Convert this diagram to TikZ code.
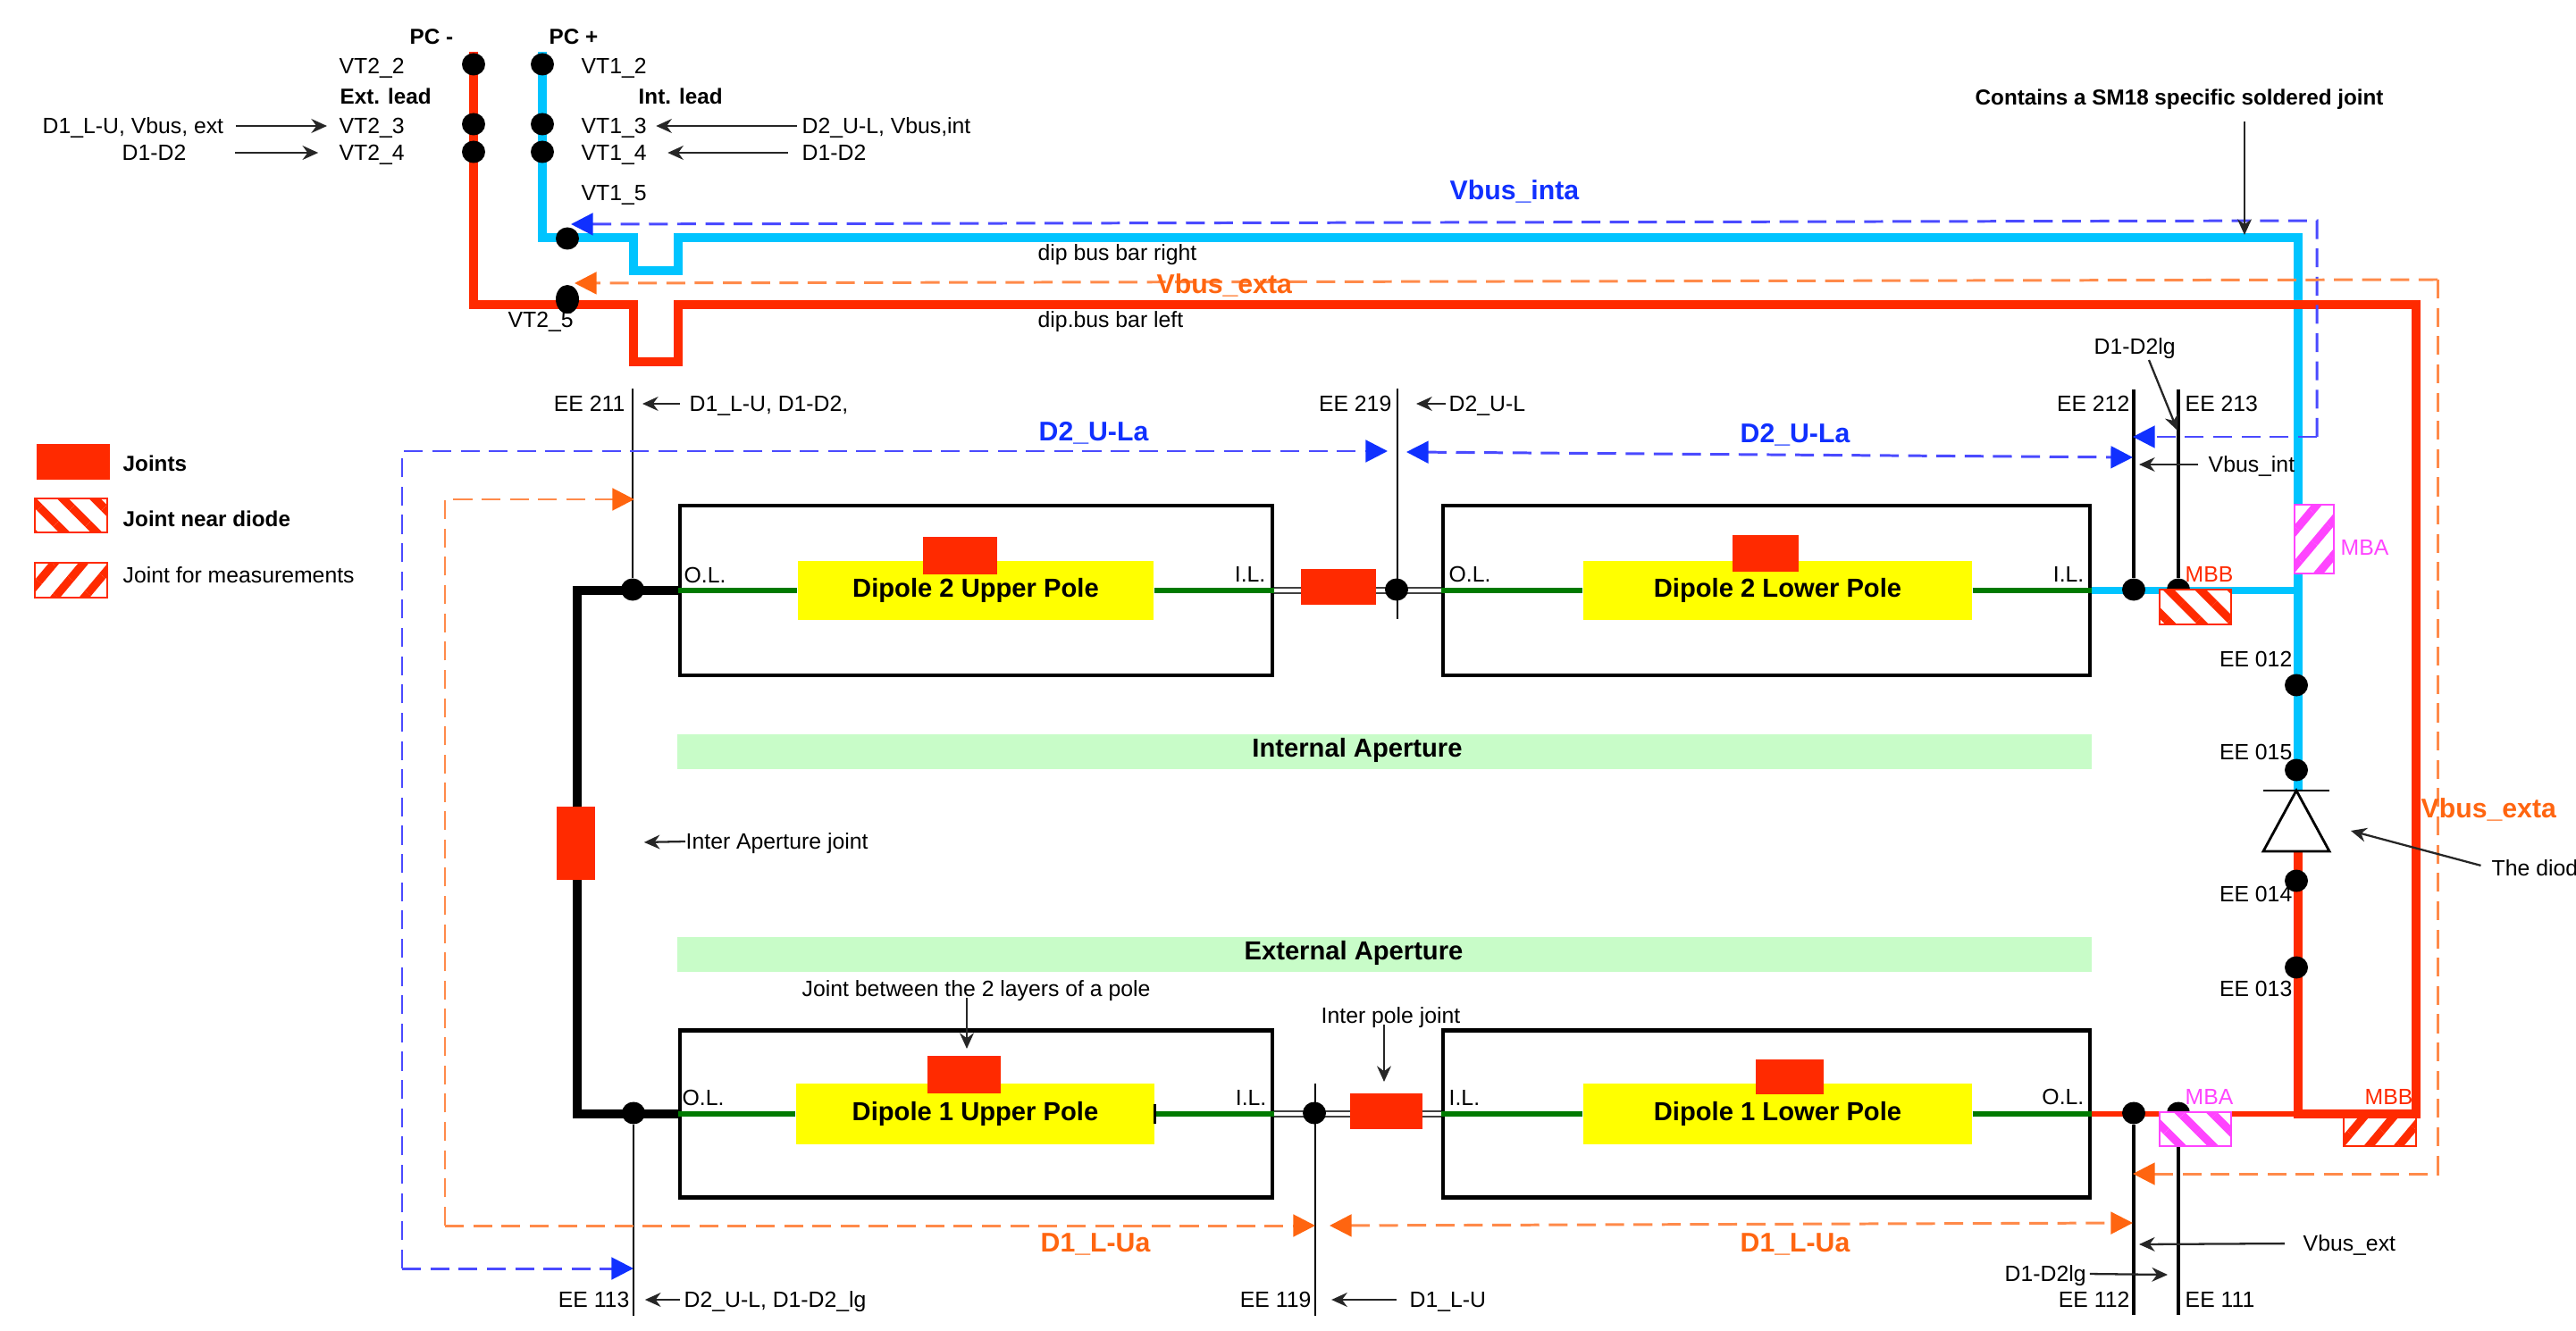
\documentclass[tikz,border=0pt]{standalone}
\usepackage{fontspec}
\setmainfont{Liberation Sans}
\usepackage{xcolor}
\usetikzlibrary{shapes.geometric, arrows.meta, positioning, patterns.meta}
\definecolor{BusRed}{HTML}{FF2A00}
\definecolor{BusCyan}{HTML}{00C4FF}
\definecolor{MagPink}{HTML}{FF44FF}
\definecolor{DashBlue}{HTML}{4A4AFF}
\definecolor{TipBlue}{HTML}{1030FF}
\definecolor{DashOrange}{HTML}{FF8A4A}
\definecolor{TipOrange}{HTML}{FF6510}
\definecolor{PoleYellow}{HTML}{FFFF00}
\definecolor{PoleGreen}{HTML}{007A00}
\definecolor{PaleGreen}{HTML}{C8FCC8}
\tikzset{
  lbl/.style={inner sep=0pt, font=\fontsize{7.05}{9}\selectfont, text height=5pt, text depth=0pt},
  blbl/.style={lbl, font=\fontsize{6.9}{9}\selectfont\bfseries},
  bigblue/.style={inner sep=0pt, font=\fontsize{8.6}{10}\selectfont\bfseries, text height=6.1pt, text depth=0pt, text=TipBlue},
  bigorange/.style={bigblue, text=TipOrange},
  magtext/.style={lbl, text=MagPink},
  redtext/.style={lbl, text=BusRed},
  polebox/.style={rectangle, draw, line width=1.2pt, inner sep=0pt},
  pole/.style={rectangle, fill=PoleYellow, inner sep=0pt, font=\fontsize{8.3}{10}\selectfont\bfseries},
  aperture/.style={rectangle, fill=PaleGreen, minimum width=15.83cm, minimum height=0.39cm, inner sep=0pt},
  aptext/.style={inner sep=0pt, font=\fontsize{8.3}{10}\selectfont\bfseries},
  joint/.style={rectangle, fill=BusRed, inner sep=0pt},
  hatchN/.style={rectangle, draw=#1, line width=0.6pt, inner sep=0pt, preaction={fill=white},
                 pattern={Lines[angle=-45,distance=7.2pt,line width=2.6pt]}, pattern color=#1},
  hatchP/.style={rectangle, draw=#1, line width=0.6pt, inner sep=0pt, preaction={fill=white},
                 pattern={Lines[angle=50,distance=7.2pt,line width=2.6pt]}, pattern color=#1},
  dot/.style={ellipse, fill=black, inner sep=0pt, minimum width=0.26cm, minimum height=0.25cm},
  intbus/.style={BusCyan, line width=2.7pt},
  extbus/.style={BusRed, line width=2.7pt},
  polewire/.style={PoleGreen, line width=1.7pt},
  linkwire/.style={black!75, double, double distance=1.1pt, line width=0.6pt},
  eethin/.style={line width=0.65pt},
  eethick/.style={line width=1.3pt},
  note/.style={-{Stealth[length=5pt,width=4.5pt]}, line width=0.65pt, black!85},
  bluedash/.style={DashBlue, line width=0.85pt, dash pattern=on 6pt off 3pt},
  orangedash/.style={DashOrange, line width=0.85pt, dash pattern=on 6pt off 3pt},
  bluetip/.style={-{Triangle[length=7pt,width=7pt,color=TipBlue]}},
  orangetip/.style={-{Triangle[length=7pt,width=7pt,color=TipOrange]}},
  bluetips/.style={{Triangle[length=7pt,width=7pt,color=TipBlue]}-{Triangle[length=7pt,width=7pt,color=TipBlue]}},
  orangetips/.style={{Triangle[length=7pt,width=7pt,color=TipOrange]}-{Triangle[length=7pt,width=7pt,color=TipOrange]}},
}
\begin{document}
\begin{tikzpicture}
    \useasboundingbox (0,0) rectangle (28.83,-14.90);

    % Green bands
    \node[aperture] (apInt) at (15.495,-8.41) {};
    \node[aperture] (apExt) at (15.495,-10.68) {};
    \node[aptext] (apIntT) at (15.19,-8.40) {Internal Aperture};
    \node[aptext] (apExtT) at (15.15,-10.67) {External Aperture};

    % Pole boxes
    \node[polebox, minimum width=6.63cm, minimum height=1.90cm] (D2U) at (10.925,-6.61) {};
    \node[polebox, minimum width=7.24cm, minimum height=1.90cm] (D2L) at (19.77,-6.61) {};
    \node[polebox, minimum width=6.63cm, minimum height=1.87cm] (D1U) at (10.925,-12.47) {};
    \node[polebox, minimum width=7.24cm, minimum height=1.87cm] (D1L) at (19.77,-12.47) {};

    % Yellow poles
    \node[pole, minimum width=3.98cm, minimum height=0.66cm] (D2Uy) at (10.92,-6.61) {Dipole 2 Upper Pole};
    \node[pole, minimum width=4.35cm, minimum height=0.66cm] (D2Ly) at (19.895,-6.61) {Dipole 2 Lower Pole};
    \node[pole, minimum width=4.01cm, minimum height=0.68cm] (D1Uy) at (10.915,-12.47) {Dipole 1 Upper Pole};
    \node[pole, minimum width=4.35cm, minimum height=0.68cm] (D1Ly) at (19.895,-12.47) {Dipole 1 Lower Pole};

    % Wires inside the boxes
    \draw[polewire] (D2U.west) -- (D2Uy.west);
    \draw[polewire] (D2Uy.east) -- (D2U.east);
    \draw[polewire] (D2L.west) -- (D2Ly.west);
    \draw[polewire] (D2Ly.east) -- (D2L.east);
    \draw[polewire] (D1U.west) -- (D1Uy.west);
    \draw[polewire] (D1Uy.east) -- (D1U.east);
    \draw[polewire] (D1L.west) -- (D1Ly.west);
    \draw[polewire] (D1Ly.east) -- (D1L.east);
    \draw[line width=0.8pt] ([yshift=0.11cm]D1Uy.east) -- ([yshift=-0.11cm]D1Uy.east);

    % Links between poles
    \draw[linkwire] (D2U.east) -- (D2L.west);
    \draw[linkwire] (D1U.east) -- (D1L.west);

    % Left aperture link
    \coordinate (lftT) at (6.46,-6.61);
    \coordinate (lftB) at (6.46,-12.47);
    \draw[line width=2.6pt] (D2U.west) -- (lftT) -- (lftB) -- (D1U.west);

    % Measurement joint under the outer bus
    \node[hatchP=BusRed, minimum width=0.81cm, minimum height=0.38cm] (mbbB) at (26.635,-12.64) {};

    % Bus bars
    \coordinate (pcMinus) at (5.30,-0.58);
    \coordinate (pcPlus) at (6.07,-0.58);
    \coordinate (ni1) at (7.09,-2.66);
    \coordinate (ni2) at (7.09,-3.03);
    \coordinate (ni3) at (7.59,-3.03);
    \coordinate (ni4) at (7.59,-2.66);
    \coordinate (ne1) at (7.09,-3.41);
    \coordinate (ne2) at (7.09,-4.05);
    \coordinate (ne3) at (7.59,-4.05);
    \coordinate (ne4) at (7.59,-3.41);
    \coordinate (ne5) at (27.04,-12.47);
    \coordinate (ne6) at (25.72,-12.47);
    \coordinate (dioTop) at (25.70,-8.85);
    \coordinate (dioL) at (25.33,-9.53);
    \coordinate (dioR) at (26.07,-9.53);
    \coordinate (barL) at (25.33,-8.85);
    \coordinate (barR) at (26.07,-8.85);
    \coordinate (dioBot) at (25.72,-9.53);
    \coordinate (nc) at (25.72,-6.61);
    \draw[intbus] (pcPlus) |- (ni1) -- (ni2) -- (ni3) -- (ni4) -| (nc) -- (dioTop -| nc);
    \draw[BusCyan, line width=2pt] (D2L.east) -- (nc);
    \draw[BusRed, line width=1.5pt] (D1L.east) -- (ne6);
    \draw[extbus] (pcMinus) |- (ne1) -- (ne2) -- (ne3) -- (ne4) -| (ne5) -- (ne6) -- (dioBot);

    % Diode
    \draw[line width=0.8pt, fill=white] (dioTop) -- (dioR) -- (dioL) -- cycle;
    \draw[line width=0.8pt] (barL) -- (barR);

    % Voltage taps
    \node[dot] (v22) at (5.30,-0.72) {};
    \node[dot] (v23) at (5.30,-1.39) {};
    \node[dot] (v24) at (5.30,-1.70) {};
    \node[dot] (v12) at (6.07,-0.72) {};
    \node[dot] (v13) at (6.07,-1.39) {};
    \node[dot] (v14) at (6.07,-1.70) {};
    \node[dot] (v15) at (6.35,-2.67) {};
    \node[dot, minimum height=0.32cm] (v25) at (6.35,-3.35) {};
    \node[dot] (e012) at (25.70,-7.67) {};
    \node[dot] (e015) at (25.70,-8.62) {};
    \node[dot] (e014) at (25.70,-9.86) {};
    \node[dot] (e013) at (25.70,-10.83) {};

    \node[dot] (e211) at (7.08,-6.60) {};
    \node[dot] (e219) at (15.63,-6.60) {};
    \node[dot] (e212) at (23.88,-6.60) {};
    \node[dot] (e213) at (24.38,-6.60) {};
    \node[dot] (e113) at (7.09,-12.46) {};
    \node[dot] (e119) at (14.71,-12.46) {};
    \node[dot] (e112) at (23.88,-12.46) {};
    \node[dot] (e111) at (24.38,-12.46) {};

    \coordinate (t211) at (7.08,-4.35);
    \coordinate (t219) at (15.64,-4.35);
    \coordinate (b219) at (15.64,-6.93);
    \coordinate (t212) at (23.88,-4.36);
    \coordinate (t213) at (24.38,-4.36);
    \coordinate (b113) at (7.09,-14.73);
    \coordinate (t119) at (14.72,-12.13);
    \coordinate (b119) at (14.72,-14.73);
    \coordinate (b112) at (23.88,-14.72);
    \coordinate (b111) at (24.38,-14.72);
    \draw[eethin] (e211) -- (t211);
    \draw[eethin] (t219) -- (b219);
    \draw[eethick] (e212) -- (t212);
    \draw[eethick] (e213) -- (t213);
    \draw[eethin] (e113) -- (b113);
    \draw[eethin] (t119) -- (b119);
    \draw[eethick] (e112) -- (b112);
    \draw[eethick] (e111) -- (b111);

    % Joints
    \node[joint, minimum width=0.43cm, minimum height=0.82cm] (jAp) at (6.445,-9.44) {};
    \node[joint, minimum width=0.83cm, minimum height=0.42cm] (jD2U) at (10.745,-6.22) {};
    \node[joint, minimum width=0.74cm, minimum height=0.41cm] (jD2L) at (19.755,-6.195) {};
    \node[joint, minimum width=0.815cm, minimum height=0.42cm] (jD1U) at (10.79,-12.03) {};
    \node[joint, minimum width=0.76cm, minimum height=0.39cm] (jD1L) at (20.03,-12.055) {};
    \node[joint, minimum width=0.84cm, minimum height=0.40cm] (jD2m) at (14.98,-6.57) {};
    \node[joint, minimum width=0.81cm, minimum height=0.40cm] (jD1m) at (15.515,-12.44) {};
    \node[hatchN=BusRed, minimum width=0.805cm, minimum height=0.39cm] (mbbT) at (24.57,-6.795) {};
    \node[hatchP=MagPink, minimum width=0.435cm, minimum height=0.77cm] (mbaT) at (25.90,-6.035) {};
    \node[hatchN=MagPink, minimum width=0.805cm, minimum height=0.38cm] (mbaB) at (24.57,-12.64) {};

    % Legend
    \node[joint, minimum width=0.82cm, minimum height=0.40cm] (lgJoint) at (0.82,-5.17) {};
    \node[hatchN=BusRed, minimum width=0.81cm, minimum height=0.38cm] (lgNear) at (0.795,-5.77) {};
    \node[hatchP=BusRed, minimum width=0.81cm, minimum height=0.39cm] (lgMeas) at (0.795,-6.495) {};
    \node[blbl, anchor=west] (lgT1) at (1.37,-5.19) {Joints};
    \node[blbl, anchor=west] (lgT2) at (1.37,-5.81) {Joint near diode};
    \node[lbl, anchor=west] (lgT3) at (1.37,-6.44) {Joint for measurements};

    % Dashed measurement loops
    \coordinate (biTR) at (25.93,-2.47);
    \coordinate (biBR) at (25.93,-4.89);
    \coordinate (biTip) at (6.39,-2.51);
    \coordinate (biEnd) at (23.87,-4.89);
    \coordinate (beTR) at (27.28,-3.13);
    \coordinate (beBR) at (27.28,-13.14);
    \coordinate (beTip) at (6.43,-3.17);
    \coordinate (beEnd) at (23.87,-13.14);
    \draw[bluedash, bluetip] (biBR) -- (biTR) -- (biTip);
    \draw[bluedash, bluetip] (biBR) -- (biEnd);
    \draw[orangedash, orangetip] (beTR) -- (beTip);
    \draw[orangedash, orangetip] (beTR) -- (beBR) -- (beEnd);

    \coordinate (buTL) at (4.50,-5.05);
    \coordinate (buBL) at (4.50,-14.20);
    \coordinate (buTip) at (15.53,-5.05);
    \coordinate (buEnd) at (7.09,-14.20);
    \coordinate (bvL) at (15.74,-5.06);
    \coordinate (bvR) at (23.87,-5.12);
    \draw[bluedash, bluetip] (buBL) -- (buTL) -- (buTip);
    \draw[bluedash, bluetip] (buBL) -- (buEnd);
    \draw[bluedash, bluetips] (bvL) -- (bvR);

    \coordinate (ouTL) at (4.98,-5.59);
    \coordinate (ouBL) at (4.98,-13.72);
    \coordinate (ouTip) at (7.10,-5.59);
    \coordinate (ouEnd) at (14.72,-13.72);
    \coordinate (ovL) at (14.88,-13.72);
    \coordinate (ovR) at (23.87,-13.69);
    \draw[orangedash, orangetip] (ouBL) -- (ouTL) -- (ouTip);
    \draw[orangedash, orangetip] (ouBL) -- (ouEnd);
    \draw[orangedash, orangetips] (ovL) -- (ovR);

    \node[bigblue, anchor=west] (nVi) at (16.22,-2.13) {Vbus\_inta};
    \node[bigorange, anchor=west] (nVe) at (12.94,-3.18) {Vbus\_exta};
    \node[bigorange, anchor=west] (nVe2) at (27.09,-9.05) {Vbus\_exta};
    \node[bigblue, anchor=west] (nU1) at (11.62,-4.83) {D2\_U-La};
    \node[bigblue, anchor=west] (nU2) at (19.47,-4.85) {D2\_U-La};
    \node[bigorange, anchor=west] (nL1) at (11.64,-13.91) {D1\_L-Ua};
    \node[bigorange, anchor=west] (nL2) at (19.47,-13.91) {D1\_L-Ua};

    % Top labels
    \node[blbl, anchor=west] (pcN) at (4.58,-0.41) {PC -};
    \node[blbl, anchor=west] (pcP) at (6.14,-0.41) {PC +};
    \node[lbl, anchor=west] (t22) at (3.79,-0.74) {VT2\_2};
    \node[lbl, anchor=west] (t12) at (6.50,-0.74) {VT1\_2};
    \node[blbl, anchor=west] (tExt) at (3.80,-1.08) {Ext. lead};
    \node[blbl, anchor=west] (tInt) at (7.14,-1.08) {Int. lead};
    \node[lbl, anchor=west] (t23) at (3.79,-1.41) {VT2\_3};
    \node[lbl, anchor=west] (t13) at (6.50,-1.41) {VT1\_3};
    \node[lbl, anchor=west] (t24) at (3.79,-1.71) {VT2\_4};
    \node[lbl, anchor=west] (t14) at (6.50,-1.71) {VT1\_4};
    \node[lbl, anchor=west] (t15) at (6.50,-2.16) {VT1\_5};
    \node[lbl, anchor=west] (t25) at (5.68,-3.58) {VT2\_5};
    \node[lbl, anchor=west] (n23) at (0.47,-1.41) {D1\_L-U, Vbus, ext};
    \node[lbl, anchor=west] (n24) at (1.36,-1.71) {D1-D2};
    \node[lbl, anchor=west] (n13) at (8.97,-1.41) {D2\_U-L, Vbus,int};
    \node[lbl, anchor=west] (n14) at (8.97,-1.71) {D1-D2};
    \node[lbl, anchor=west] (busR) at (11.61,-2.83) {dip bus bar right};
    \node[lbl, anchor=west] (busL) at (11.61,-3.58) {dip.bus bar left};
    \node[blbl, anchor=west] (nSm) at (22.10,-1.09) {Contains a SM18 specific soldered joint};

    % EE labels
    \node[lbl, anchor=east] (l211) at (7.00,-4.52) {EE 211};
    \node[lbl, anchor=west] (n211) at (7.71,-4.52) {D1\_L-U, D1-D2,};
    \node[lbl, anchor=east] (l219) at (15.58,-4.52) {EE 219};
    \node[lbl, anchor=west] (n219) at (16.21,-4.52) {D2\_U-L};
    \node[lbl, anchor=east] (l212) at (23.84,-4.52) {EE 212};
    \node[lbl, anchor=west] (l213) at (24.45,-4.52) {EE 213};
    \node[lbl, anchor=west] (nLgT) at (23.43,-3.88) {D1-D2lg};
    \node[lbl, anchor=west] (nVint) at (24.71,-5.20) {Vbus\_int};
    \node[lbl, anchor=east] (l012) at (25.66,-7.38) {EE 012};
    \node[lbl, anchor=east] (l015) at (25.66,-8.42) {EE 015};
    \node[lbl, anchor=east] (l014) at (25.66,-10.01) {EE 014};
    \node[lbl, anchor=east] (l013) at (25.66,-11.07) {EE 013};
    \node[lbl, anchor=east] (l113) at (7.05,-14.55) {EE 113};
    \node[lbl, anchor=west] (n113) at (7.65,-14.55) {D2\_U-L, D1-D2\_lg};
    \node[lbl, anchor=east] (l119) at (14.68,-14.55) {EE 119};
    \node[lbl, anchor=west] (n119) at (15.77,-14.55) {D1\_L-U};
    \node[lbl, anchor=east] (l112) at (23.84,-14.55) {EE 112};
    \node[lbl, anchor=west] (l111) at (24.45,-14.55) {EE 111};
    \node[lbl, anchor=west] (nLgB) at (22.43,-14.26) {D1-D2lg};
    \node[lbl, anchor=west] (nVext) at (25.77,-13.92) {Vbus\_ext};
    \node[lbl, anchor=west] (nDiod) at (27.88,-9.72) {The diod};
    \node[lbl, anchor=west] (nAp) at (7.67,-9.42) {Inter Aperture joint};
    \node[lbl, anchor=west] (nLay) at (8.97,-11.07) {Joint between the 2 layers of a pole};
    \node[lbl, anchor=west] (nPole) at (14.78,-11.37) {Inter pole joint};

    % Box end labels
    \node[lbl, anchor=west] (ol1) at (7.65,-6.44) {O.L.};
    \node[lbl, anchor=east] (il1) at (14.17,-6.43) {I.L.};
    \node[lbl, anchor=west] (ol2) at (16.21,-6.43) {O.L.};
    \node[lbl, anchor=east] (il2) at (23.33,-6.43) {I.L.};
    \node[lbl, anchor=west] (ol3) at (7.63,-12.29) {O.L.};
    \node[lbl, anchor=east] (il3) at (14.18,-12.29) {I.L.};
    \node[lbl, anchor=west] (il4) at (16.21,-12.29) {I.L.};
    \node[lbl, anchor=east] (ol4) at (23.33,-12.28) {O.L.};
    \node[redtext, anchor=west] (tMbbT) at (24.45,-6.43) {MBB};
    \node[magtext, anchor=west] (tMbaT) at (26.19,-6.13) {MBA};
    \node[magtext, anchor=west] (tMbaB) at (24.45,-12.28) {MBA};
    \node[redtext, anchor=west] (tMbbB) at (26.46,-12.28) {MBB};

    % Annotation arrows
    \coordinate (tipSm) at (25.12,-2.63);
    \coordinate (tailSm) at (25.12,-1.36);
    \coordinate (tipLgT) at (24.37,-4.82);
    \coordinate (tailLgT) at (24.05,-4.03);
    \coordinate (tipLgB) at (24.26,-14.27);
    \coordinate (tipVint) at (23.94,-5.20);
    \coordinate (tipVext) at (23.94,-13.93);
    \coordinate (tipDiod) at (26.31,-9.30);
    \coordinate (tipLay) at (10.82,-11.74);
    \coordinate (tailLay) at (10.82,-11.17);
    \coordinate (tipPole) at (15.49,-12.11);
    \coordinate (tailPole) at (15.49,-11.47);
    \draw[note, shorten <=3.7pt, shorten >=3.7pt] (n23.east) -- (t23.west);
    \draw[note, shorten <=15.4pt, shorten >=6.5pt] (n24.east) -- (t24.west);
    \draw[note, shorten <=1.4pt, shorten >=2.8pt] (n13.west) -- (t13.east);
    \draw[note, shorten <=4.3pt, shorten >=6.5pt] (n14.west) -- (t14.east);
    \draw[note, shorten <=2.8pt, shorten >=5.4pt] (n211.west) -- (l211.east);
    \draw[note, shorten <=1pt, shorten >=7.7pt] (n219.west) -- (l219.east);
    \draw[note, shorten <=1.1pt, shorten >=4.8pt] (n113.west) -- (l113.east);
    \draw[note, shorten <=4pt, shorten >=6.3pt] (n119.west) -- (l119.east);
    \draw[note, shorten <=3pt] (nVint.west) -- (tipVint);
    \draw[note, shorten <=5.7pt] (nVext.west) -- (tipVext);
    \draw[note] (tailSm) -- (tipSm);
    \draw[note] (tailLgT) -- (tipLgT);
    \draw[note, shorten <=1pt] (nLgB.east) -- (tipLgB);
    \draw[note, shorten <=3.4pt] (nDiod.west) -- (tipDiod);
    \draw[note, shorten >=15.4pt] (nAp.west) -- (jAp.east);
    \draw[note] (tailLay) -- (tipLay);
    \draw[note] (tailPole) -- (tipPole);
\end{tikzpicture}
\end{document}
